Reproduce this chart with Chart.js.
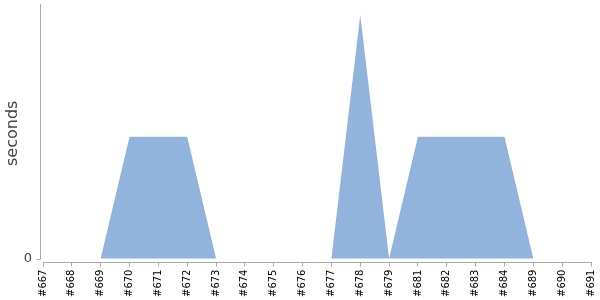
<!DOCTYPE html>
<html>
<head>
<meta charset="UTF-8">
<title>seconds</title>
<script src="https://cdn.jsdelivr.net/npm/chart.js@4.4.0/dist/chart.umd.min.js"></script>
<style>
  html, body { margin: 0; padding: 0; background: #fff; }
  #wrap { position: relative; width: 600px; height: 300px; }
</style>
</head>
<body>
<div id="wrap"><canvas id="chart" width="600" height="300"></canvas></div>
<script>
// builds shown on the x axis (#680, #685-#688 are not in the data)
const builds = ['#667', '#668', '#669', '#670', '#671', '#672', '#673', '#674', '#675', '#676',
                '#677', '#678', '#679', '#681', '#682', '#683', '#684', '#689', '#690', '#691']
const seconds = [0, 0, 0, 1, 1, 1, 0, 0, 0, 0,
                 0, 2, 0, 1, 1, 1, 1, 0, 0, 0]
const yTicks = [0]

// y axis line stops at 0 and sits a little left of the x axis start
const yAxisLine = {
  id: 'yAxisLine',
  afterDraw(c) {
    const g = c.ctx, a = c.chartArea, y0 = Math.round(c.scales.y.getPixelForValue(0)) + 0.5
    g.save()
    g.strokeStyle = '#aaa'
    g.lineWidth = 1
    g.beginPath()
    g.moveTo(a.left - 2.5, a.top)
    g.lineTo(a.left - 2.5, y0)
    g.lineTo(a.left - 6.5, y0)
    g.stroke()
    g.restore()
  }
}

const ctx = document.getElementById('chart').getContext('2d')
const chart = new Chart(ctx, {
  type: 'line',
  data: {
    labels: builds,
    datasets: [{
      label: 'seconds',
      data: seconds,
      fill: 'origin',
      backgroundColor: 'rgb(145,179,220)',
      borderWidth: 0,
      pointRadius: 0,
      tension: 0
    }]
  },
  options: {
    responsive: false,
    animation: false,
    layout: { padding: { top: 4, right: 9, left: 0, bottom: 0 } },
    plugins: { legend: { display: false }, tooltip: { enabled: false } },
    scales: {
      x: {
        offset: false,
        afterFit: s => { s.paddingLeft = 0; s.paddingRight = 0 },
        grid: { display: true, drawOnChartArea: false, drawTicks: true, tickLength: 4, color: '#aaa' },
        border: { color: '#aaa' },
        ticks: {
          autoSkip: false,
          minRotation: 90,
          maxRotation: 90,
          color: '#000',
          padding: 3,
          font: { family: 'DejaVu Sans', size: 10 }
        }
      },
      y: {
        min: -0.033,
        max: 2.09,
        afterBuildTicks: s => { s.ticks = yTicks.map(v => ({ value: v })) },
        afterFit: s => { s.width = 43; s.paddingTop = 0; s.paddingBottom = 0 },
        grid: { display: false, drawTicks: true, tickLength: 4 },
        border: { display: false },
        ticks: {
          color: '#444',
          padding: 7,
          font: { family: 'DejaVu Sans', size: 13 }
        },
        title: {
          display: true,
          text: 'seconds',
          color: '#444',
          padding: { top: 3, bottom: 0 },
          font: { family: 'DejaVu Sans', size: 16 }
        }
      }
    }
  },
  plugins: [yAxisLine]
})
</script>
</body>
</html>
